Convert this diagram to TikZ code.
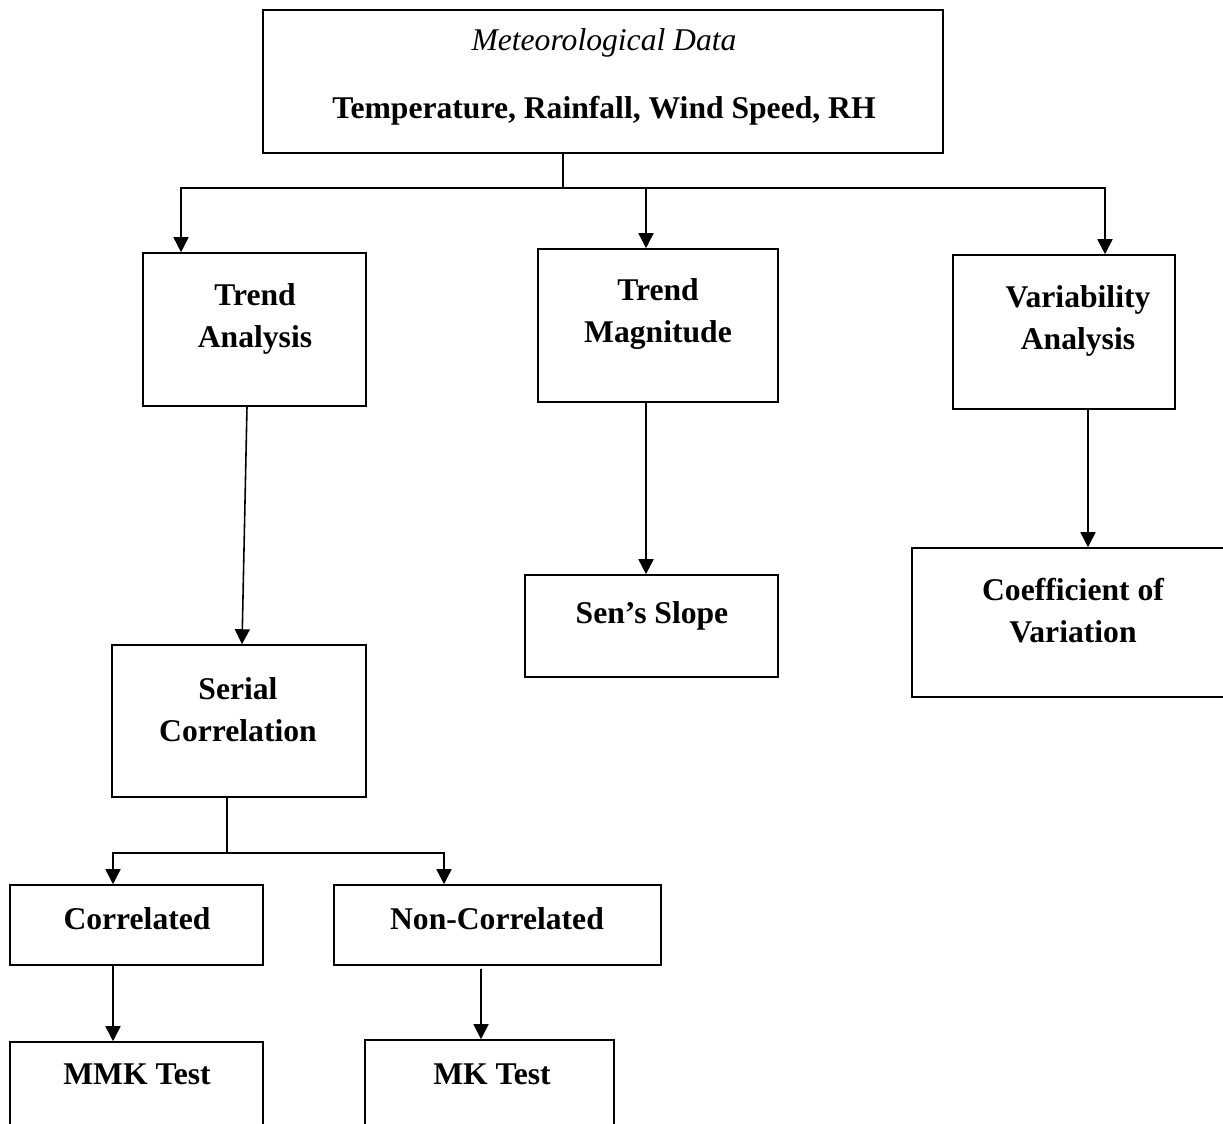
\documentclass[tikz,border=0pt]{standalone}
\usepackage{fontspec}
\setmainfont{Liberation Serif}
\usetikzlibrary{arrows.meta,positioning}

\begin{document}
\begin{tikzpicture}[x=0.02cm, y=-0.02cm, line width=0.9pt,
    box/.style={draw, rectangle, inner sep=0pt},
    lbl/.style={font=\fontsize{18}{24}\selectfont\bfseries, align=center},
    arr/.style={-{Triangle[length=0.3cm, width=0.3cm]}}]
			\path[use as bounding box, clip] (0,0) rectangle (1223,1124);

			\node[box, minimum width=13.6cm, minimum height=2.86cm] (met) at (603,81.5) {};
			\node[lbl, font=\fontsize{18}{24}\selectfont\itshape] (metT) at (604,43) {Meteorological Data};
			\node[lbl] (metV) at (604,111) {Temperature, Rainfall, Wind Speed, RH};

			\node[box, minimum width=4.46cm, minimum height=3.06cm] (ta) at (254.5,329.5) {};
			\node[lbl] (taT) at (255,319) {Trend\\Analysis};
			\node[box, minimum width=4.8cm, minimum height=3.06cm] (tm) at (658,325.5) {};
			\node[lbl] (tmT) at (658,314) {Trend\\Magnitude};
			\node[box, minimum width=4.44cm, minimum height=3.08cm] (va) at (1064,332) {};
			\node[lbl] (vaT) at (1078,321) {Variability\\Analysis};

			\node[box, minimum width=5.08cm, minimum height=3.04cm] (sc) at (239,721) {};
			\node[lbl] (scT) at (238,710) {Serial\\Correlation};
			\node[box, minimum width=5.06cm, minimum height=2.04cm] (ss) at (651.5,626) {};
			\node[lbl] (ssT) at (652,616) {Sen’s Slope};
			\node[box, minimum width=6.28cm, minimum height=2.98cm] (cv) at (1069,622.5) {};
			\node[lbl] (cvT) at (1073,611) {Coefficient of\\Variation};

			\node[box, minimum width=5.06cm, minimum height=1.6cm] (co) at (136.5,925) {};
			\node[lbl] (coT) at (137,919) {Correlated};
			\node[box, minimum width=6.54cm, minimum height=1.6cm] (nc) at (497.5,925) {};
			\node[lbl] (ncT) at (497,919) {Non-Correlated};

			\node[box, minimum width=5.06cm, minimum height=2.36cm] (mmk) at (136.5,1101) {};
			\node[lbl] (mmkT) at (137,1074) {MMK Test};
			\node[box, minimum width=4.98cm, minimum height=2.4cm] (mk) at (489.5,1100) {};
			\node[lbl] (mkT) at (492,1074) {MK Test};

			\coordinate (jt) at (563,188);
			\coordinate (js) at (227,853);

			\draw (jt |- met.south) -- (jt);
			\draw[arr] (jt) -| ([xshift=-1.47cm]ta.north);
			\draw[arr] (jt) -| ([xshift=0.82cm]va.north);
			\draw[arr] ([xshift=-0.24cm]tm.north |- jt) -- ([xshift=-0.24cm]tm.north);

			\draw[arr] ([xshift=-0.15cm]ta.south) -- ([xshift=0.06cm]sc.north);
			\draw[arr] ([xshift=-0.24cm]tm.south) -- ([xshift=-0.11cm]ss.north);
			\draw[arr] ([xshift=0.48cm]va.south) -- ([xshift=0.38cm]cv.north);

			\draw ([xshift=-0.24cm]sc.south) -- (js);
			\draw[arr] (js) -| ([xshift=-0.47cm]co.north);
			\draw[arr] (js) -| ([xshift=-1.07cm]nc.north);

			\draw[arr] ([xshift=-0.47cm]co.south) -- ([xshift=-0.47cm]mmk.north);
			\draw[arr] ([xshift=-0.33cm, yshift=-0.06cm]nc.south) -- ([xshift=-0.17cm]mk.north);
		\end{tikzpicture}
\end{document}
